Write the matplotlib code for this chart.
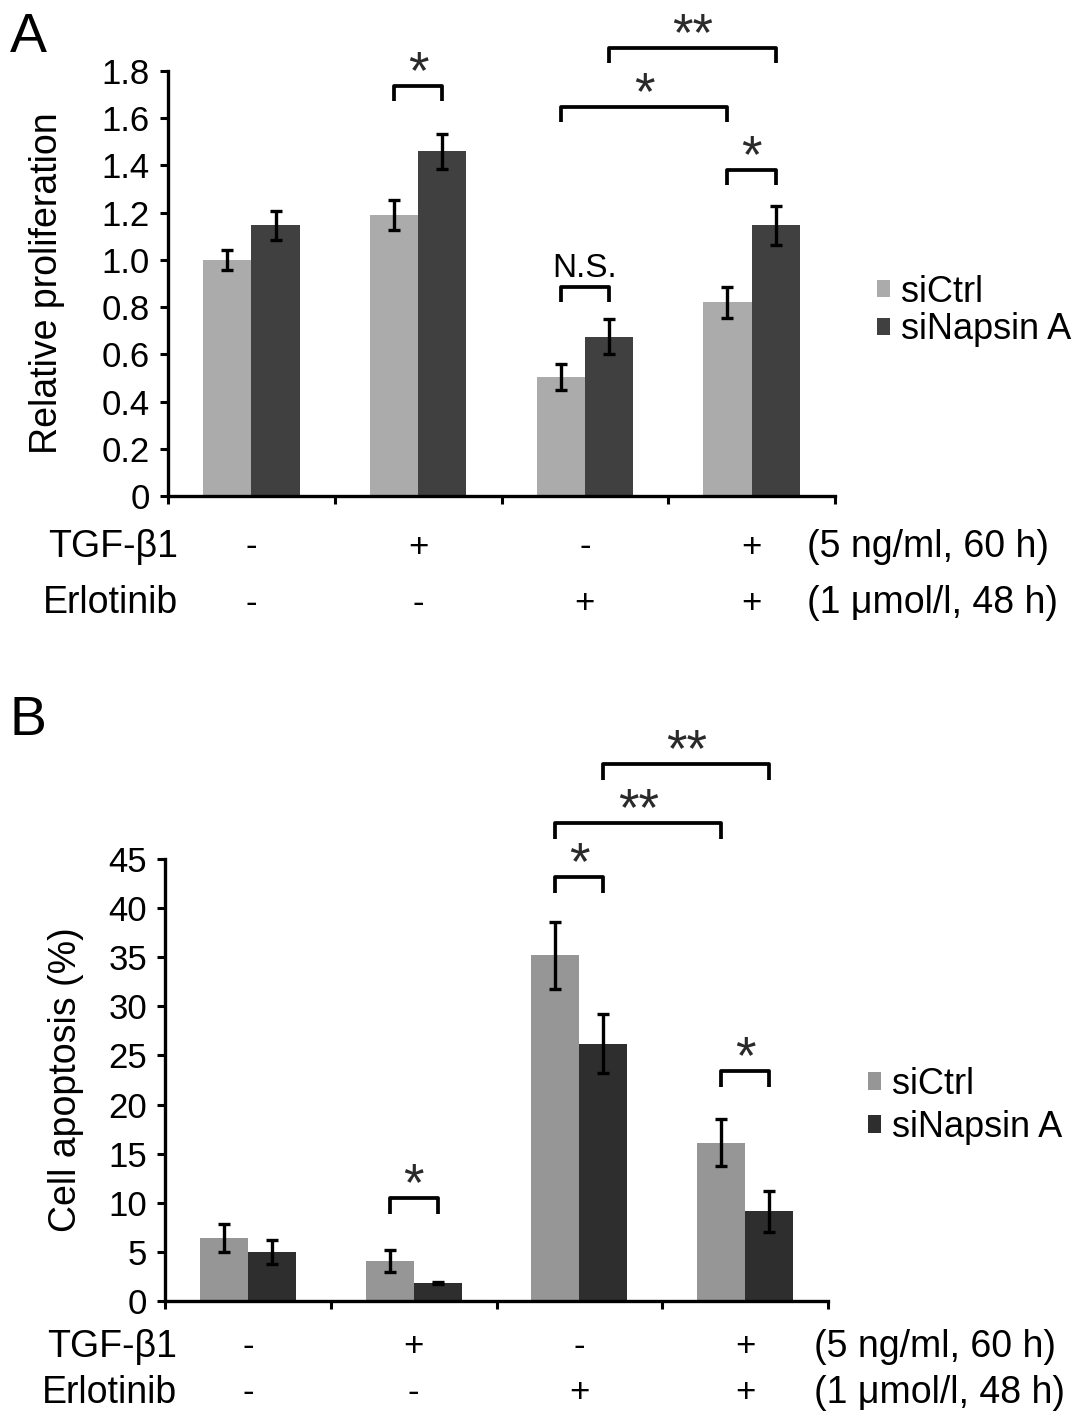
import numpy as np
import matplotlib
matplotlib.use("Agg")
import matplotlib.pyplot as plt

plt.rcParams['font.family'] = ['Liberation Sans', 'DejaVu Sans']

# shared layout of the treatments
groups = np.arange(4)
series_names = ["siCtrl", "siNapsin A"]
tgf_signs = ["-", "+", "-", "+"]
erl_signs = ["-", "-", "+", "+"]
tgf_label = "TGF-\u03b21"
erl_label = "Erlotinib"
tgf_dose = "(5 ng/ml, 60 h)"
erl_dose = "(1 \u03bcmol/l, 48 h)"

# panel A: relative proliferation
prolif_ctrl = [1.00, 1.19, 0.505, 0.82]
prolif_ctrl_err = [0.044, 0.062, 0.054, 0.067]
prolif_nap = [1.146, 1.46, 0.675, 1.146]
prolif_nap_err = [0.062, 0.074, 0.073, 0.081]
prolif_ticks = [0, 0.2, 0.4, 0.6, 0.8, 1.0, 1.2, 1.4, 1.6, 1.8]
prolif_ticklabels = ["0", "0.2", "0.4", "0.6", "0.8", "1.0", "1.2", "1.4", "1.6", "1.8"]
# (group a, series a, group b, series b, bracket height, mark)
prolif_sig = [(1, 0, 1, 1, 1.737, "*"),
              (2, 0, 2, 1, 0.886, "N.S."),
              (3, 0, 3, 1, 1.381, "*"),
              (2, 0, 3, 0, 1.648, "*"),
              (2, 1, 3, 1, 1.898, "**")]

# panel B: cell apoptosis (%)
apop_ctrl = [6.4, 4.1, 35.2, 16.1]
apop_ctrl_err = [1.4, 1.1, 3.4, 2.4]
apop_nap = [5.0, 1.85, 26.2, 9.15]
apop_nap_err = [1.25, 0.12, 3.0, 2.1]
apop_ticks = [0, 5, 10, 15, 20, 25, 30, 35, 40, 45]
apop_ticklabels = [str(t) for t in apop_ticks]
apop_sig = [(1, 0, 1, 1, 10.5, "*"),
            (2, 0, 2, 1, 43.2, "*"),
            (3, 0, 3, 1, 23.4, "*"),
            (2, 0, 3, 0, 48.7, "**"),
            (2, 1, 3, 1, 54.7, "**")]

W, H = 1091, 1424
BAR_W = 0.29


def bar_x(g, s):
    return g + 0.5 + (s - 0.5) * BAR_W


def draw_panel(ax, ctrl, ctrl_err, nap, nap_err, colors, ticks, ticklabels,
               ylabel, sig, row_y, left_x, right_x, label_x):
    ymax = ticks[-1]
    ekw = dict(elinewidth=2.4, capthick=2.4, ecolor="black")
    ax.bar(bar_x(groups, 0), ctrl, BAR_W, yerr=ctrl_err, color=colors[0],
           capsize=4, error_kw=ekw, label=series_names[0], zorder=2)
    ax.bar(bar_x(groups, 1), nap, BAR_W, yerr=nap_err, color=colors[1],
           capsize=4, error_kw=ekw, label=series_names[1], zorder=2)

    ax.set_xlim(0, 4)
    ax.set_ylim(0, ymax)
    ax.set_xticks([0, 1, 2, 3, 4])
    ax.set_xticklabels([])
    ax.set_yticks(ticks)
    ax.set_yticklabels(ticklabels, fontsize=25)
    for side in ["top", "right"]:
        ax.spines[side].set_visible(False)
    for side in ["left", "bottom"]:
        ax.spines[side].set_linewidth(2.4)
    ax.tick_params(axis="both", direction="out", length=6, width=2.2, pad=7)
    ax.set_ylabel(ylabel, fontsize=27)
    ax.yaxis.set_label_coords(label_x, 0.5)

    # significance brackets
    leg = 0.036 * ymax
    for ga, sa, gb, sb, h, mark in sig:
        x0, x1 = bar_x(ga, sa), bar_x(gb, sb)
        ax.plot([x0, x0, x1, x1], [h - leg, h, h, h - leg], color="black",
                lw=2.7, clip_on=False, solid_capstyle="butt")
        if mark == "N.S.":
            ax.annotate(mark, xy=((x0 + x1) / 2, h), xytext=(0, 7),
                        textcoords="offset points", ha="center",
                        va="baseline", fontsize=24, annotation_clip=False)
        else:
            ax.annotate(mark, xy=((x0 + x1) / 2, h), xytext=(0, -1.5),
                        textcoords="offset points", ha="center",
                        va="baseline", fontsize=38, color="#2a2a2a",
                        annotation_clip=False)

    # treatment rows under the axis
    tr = ax.get_xaxis_transform()
    rows = [(tgf_label, tgf_signs, tgf_dose), (erl_label, erl_signs, erl_dose)]
    for (name, signs, dose), y in zip(rows, row_y):
        ax.text(left_x, y, name, transform=tr, ha="right", va="center",
                fontsize=27)
        for g, sgn in zip(groups, signs):
            ax.text(g + 0.5, y, sgn, transform=tr, ha="center", va="center",
                    fontsize=25)
        ax.text(right_x, y, dose, transform=tr, ha="left", va="center",
                fontsize=27)


fig = plt.figure(figsize=(W / 100, H / 100), dpi=100)

ax_a = fig.add_axes([168 / W, 1 - 496 / H, 667 / W, 425 / H])
draw_panel(ax_a, prolif_ctrl, prolif_ctrl_err, prolif_nap, prolif_nap_err,
           ["#ababab", "#404040"], prolif_ticks, prolif_ticklabels,
           "Relative proliferation", prolif_sig, [-0.12, -0.252],
           0.06, 3.83, -0.154)
ax_a.legend(loc="center left", bbox_to_anchor=(877 / W, 1 - 311 / H),
            bbox_transform=fig.transFigure, frameon=False, fontsize=26,
            handlelength=0.36, handleheight=0.36, handletextpad=0.3,
            borderpad=0, borderaxespad=0, labelspacing=0.08)

ax_b = fig.add_axes([165 / W, 1 - 1301 / H, 663 / W, 442 / H])
draw_panel(ax_b, apop_ctrl, apop_ctrl_err, apop_nap, apop_nap_err,
           ["#969696", "#2e2e2e"], apop_ticks, apop_ticklabels,
           "Cell apoptosis (%)", apop_sig, [-0.104, -0.208],
           0.072, 3.915, -0.122)
ax_b.legend(loc="center left", bbox_to_anchor=(868 / W, 1 - 1106 / H),
            bbox_transform=fig.transFigure, frameon=False, fontsize=26,
            handlelength=0.36, handleheight=0.36, handletextpad=0.3,
            borderpad=0, borderaxespad=0, labelspacing=0.22)

fig.text(10 / W, 1 - 12 / H, "A", fontsize=40, ha="left", va="top")
fig.text(10 / W, 1 - 695 / H, "B", fontsize=40, ha="left", va="top")

fig.savefig("out.png", dpi=100)
